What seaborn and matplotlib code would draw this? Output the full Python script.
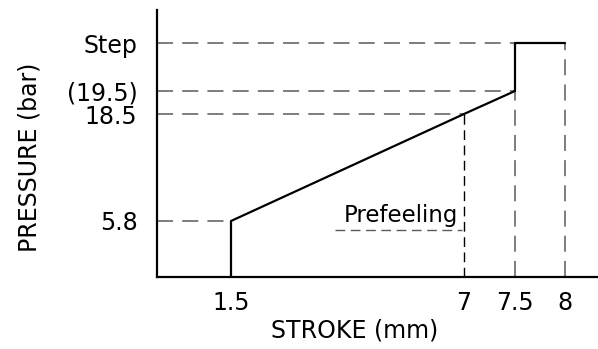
import numpy as np
import pandas as pd
import matplotlib
matplotlib.use("Agg")
import matplotlib.pyplot as plt
import seaborn as sns

# Characteristic points of the pedal curve
STEP_P = 23.0                      # pressure level drawn for the "Step"
stroke_pts = [1.5, 1.5, 7.0, 7.5, 7.5, 8.0]
pressure_pts = [0.0, 5.8, 18.5, 19.5, STEP_P, STEP_P]

x_ticks = [1.5, 7.0, 7.5, 8.0]
x_tick_labels = ["1.5", "7", "7.5", "8"]
y_ticks = [5.8, 18.5, 19.5, STEP_P]
y_tick_labels = ["5.8", "18.5", "(19.5)", "Step"]

# Reference lines: (pressure, stroke where the horizontal guide ends)
h_guides = [(STEP_P, 7.5), (19.5, 7.5), (18.5, 7.0), (5.8, 1.5)]
# (stroke, pressure where the vertical guide ends)
v_guides_gray = [(7.5, 19.5), (8.0, STEP_P)]
v_guide_black = (7.0, 18.5)

# Schematic (non-proportional) axis spacing
x_knots_data = [0.0, 1.5, 7.0, 7.5, 8.0]
x_knots_disp = [0.0, 74.0, 307.0, 358.0, 408.0]
y_knots_data = [0.0, 5.8, 18.5, 19.5, STEP_P]
y_knots_disp = [0.0, 56.0, 163.0, 186.0, 234.0]


def piecewise(k_in, k_out):
    k_in = np.asarray(k_in, float)
    k_out = np.asarray(k_out, float)
    s0 = (k_out[1] - k_out[0]) / (k_in[1] - k_in[0])
    s1 = (k_out[-1] - k_out[-2]) / (k_in[-1] - k_in[-2])

    def f(v):
        v = np.asarray(v, float)
        out = np.interp(v, k_in, k_out)
        out = np.where(v < k_in[0], k_out[0] + (v - k_in[0]) * s0, out)
        out = np.where(v > k_in[-1], k_out[-1] + (v - k_in[-1]) * s1, out)
        return out
    return f


fx = piecewise(x_knots_data, x_knots_disp)
fx_inv = piecewise(x_knots_disp, x_knots_data)
fy = piecewise(y_knots_data, y_knots_disp)
fy_inv = piecewise(y_knots_disp, y_knots_data)

sns.set_style("white")
plt.rcParams["font.family"] = ["DejaVu Sans"]
plt.rcParams["text.color"] = "black"
plt.rcParams["axes.labelcolor"] = "black"

FS = 17

fig = plt.figure(figsize=(5.98, 3.49), dpi=100)
ax = fig.add_axes([157 / 598, 1 - 277 / 349, 441 / 598, 267 / 349])
ax.set_xscale("function", functions=(fx, fx_inv))
ax.set_yscale("function", functions=(fy, fy_inv))
ax.set_xlim(0.0, float(fx_inv(441.0)))
ax.set_ylim(0.0, float(fy_inv(267.0)))

gray = "#5a5a5a"
dash_kw = dict(color=gray, lw=1.1, dashes=(10.5, 6), zorder=1)

for p, s in h_guides:
    ax.plot([0.0, s], [p, p], **dash_kw)
for s, p in v_guides_gray:
    ax.plot([s, s], [0.0, p], **dash_kw)
ax.plot([v_guide_black[0]] * 2, [0.0, v_guide_black[1]],
        color="black", lw=1.0, dashes=(7, 4), zorder=1)

df = pd.DataFrame({"stroke": stroke_pts, "pressure": pressure_pts})
sns.lineplot(data=df, x="stroke", y="pressure", sort=False, estimator=None,
             color="black", lw=1.6, ax=ax, zorder=3)

# "Prefeeling" label with dashed underline
ax.text(0.553, 0.232, "Prefeeling", transform=ax.transAxes,
        ha="center", va="center", fontsize=FS - 0.5)
ax.plot([0.404, 0.692], [0.176, 0.176], transform=ax.transAxes,
        color=gray, lw=1.0, dashes=(7, 4))

sns.despine(ax=ax)
for side in ("left", "bottom"):
    ax.spines[side].set_color("black")
    ax.spines[side].set_linewidth(1.6)

ax.set_xticks(x_ticks)
ax.set_xticklabels(x_tick_labels)
ax.set_yticks(y_ticks)
ax.set_yticklabels(y_tick_labels)
ax.minorticks_off()
ax.tick_params(axis="both", labelsize=FS, colors="black", direction="out")
ax.tick_params(axis="x", length=7, width=1.0, pad=3.0)
ax.tick_params(axis="y", length=6.5, width=1.2, pad=7.5)
for i, t in enumerate(ax.xaxis.get_major_ticks()):
    if x_ticks[i] != 7.0:
        t.tick1line.set_visible(False)

ax.set_xlabel("STROKE (mm)", fontsize=FS)
ax.set_ylabel("PRESSURE (bar)", fontsize=FS)
ax.xaxis.set_label_coords(0.447, -0.199)
ax.yaxis.set_label_coords(-0.288, 0.449)
ax.xaxis.label.set_va("center")
ax.yaxis.label.set_va("center")

fig.savefig("out.png", dpi=100)
